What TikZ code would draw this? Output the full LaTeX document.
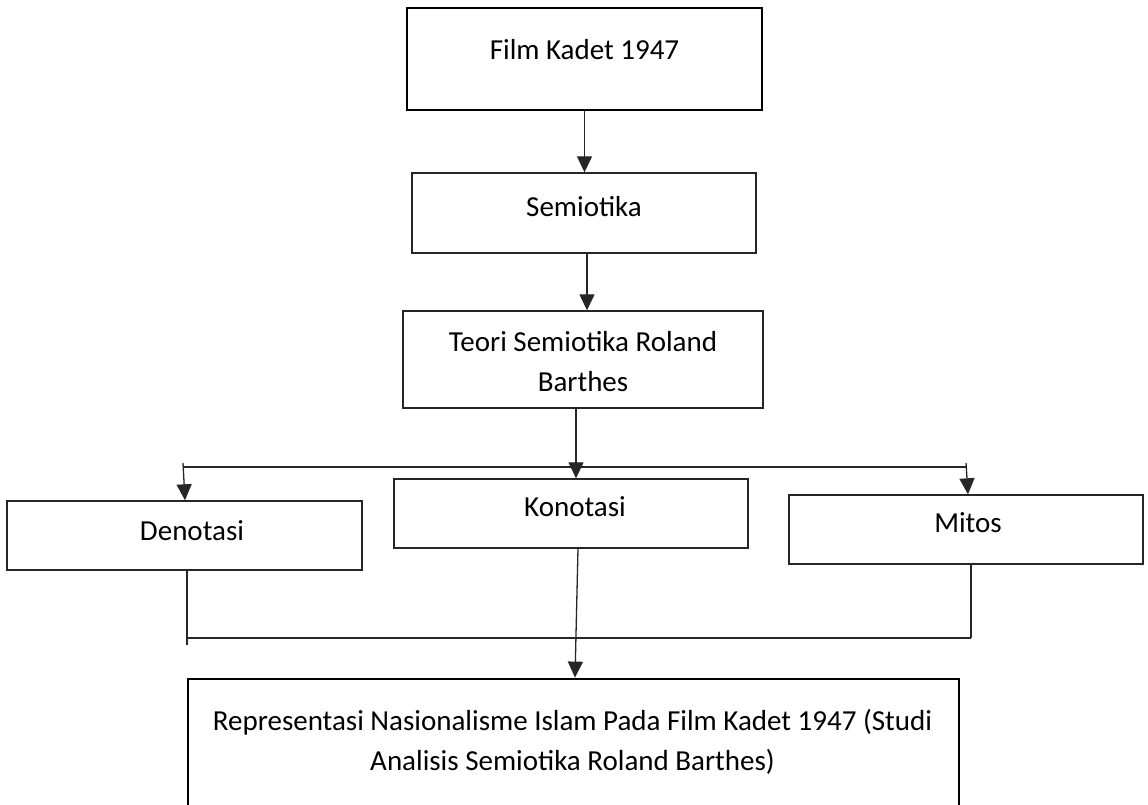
\documentclass[tikz,border=0pt]{standalone}
\usepackage{fontspec}
\setmainfont{Carlito}
\usetikzlibrary{arrows.meta}
\begin{document}
\begin{tikzpicture}[x=1pt,y=-1pt,
  thinbox/.style={draw=black!85,line width=1.4pt,inner sep=0pt},
  thickbox/.style={draw=black,line width=2.8pt,inner sep=0pt},
  lbl/.style={font=\fontsize{29}{40}\selectfont,inner sep=0pt,align=center},
  conn/.style={draw=black!85,line width=1.3pt},
  arr/.style={conn,-{Triangle[width=15pt,length=16pt]}}]
\clip (0,0) rectangle (1148,805);
\fill[white] (0,0) rectangle (1148,805);
% boxes
\node[thickbox,minimum width=355pt,minimum height=102pt] (top) at (584.5,59) {};
\node[thinbox,minimum width=344pt,minimum height=80pt] (sem) at (584,213) {};
\node[thinbox,minimum width=360pt,minimum height=97pt] (teori) at (583,359.5) {};
\node[thinbox,minimum width=355pt,minimum height=69pt] (den) at (184.5,535.5) {};
\node[thinbox,minimum width=354pt,minimum height=69pt] (kon) at (571,513.5) {};
\node[thinbox,minimum width=354pt,minimum height=69pt] (mit) at (966,529.5) {};
\node[thickbox,minimum width=771pt,minimum height=150pt] (bot) at (573.5,754) {};
% labels
\node[lbl] (ttop) at (584.5,50) {Film Kadet 1947};
\node[lbl] (tsem) at (584,207) {Semiotika};
\node[lbl] (tteori) at (583,362) {Teori Semiotika Roland\\Barthes};
\node[lbl] (tden) at (192,531) {Denotasi};
\node[lbl] (tkon) at (575,507) {Konotasi};
\node[lbl] (tmit) at (968,523) {Mitos};
\node[lbl] (tbot) at (572.5,742) {Representasi Nasionalisme Islam Pada Film Kadet 1947 (Studi\\Analisis Semiotika Roland Barthes)};
% junction points
\coordinate (jl) at (183,463);
\coordinate (jr) at (966,463);
\coordinate (hl) at (183,467);
\coordinate (hr) at (966,467);
\coordinate (dl) at (187,645);
\coordinate (ml) at (187,638);
\coordinate (mr) at (971,638);
% connectors
\draw[arr] (top.south) -- (sem.north -| top.south);
\draw[arr] ([xshift=3pt]sem.south) -- ([xshift=4pt]teori.north);
\draw[arr] ([xshift=-7pt]teori.south) -- ([xshift=5pt]kon.north);
\draw[conn] (hl) -- (hr);
\draw[arr] (jl) -- ([xshift=0.5pt]den.north);
\draw[arr] (jr) -- ([xshift=2pt]mit.north);
\draw[conn] (den.south -| dl) -- (dl);
\draw[conn] (ml) -- (mr);
\draw[conn] (mit.south -| mr) -- (mr);
\draw[arr] ([xshift=7pt]kon.south) -- ([xshift=1.5pt]bot.north);
\end{tikzpicture}
\end{document}
